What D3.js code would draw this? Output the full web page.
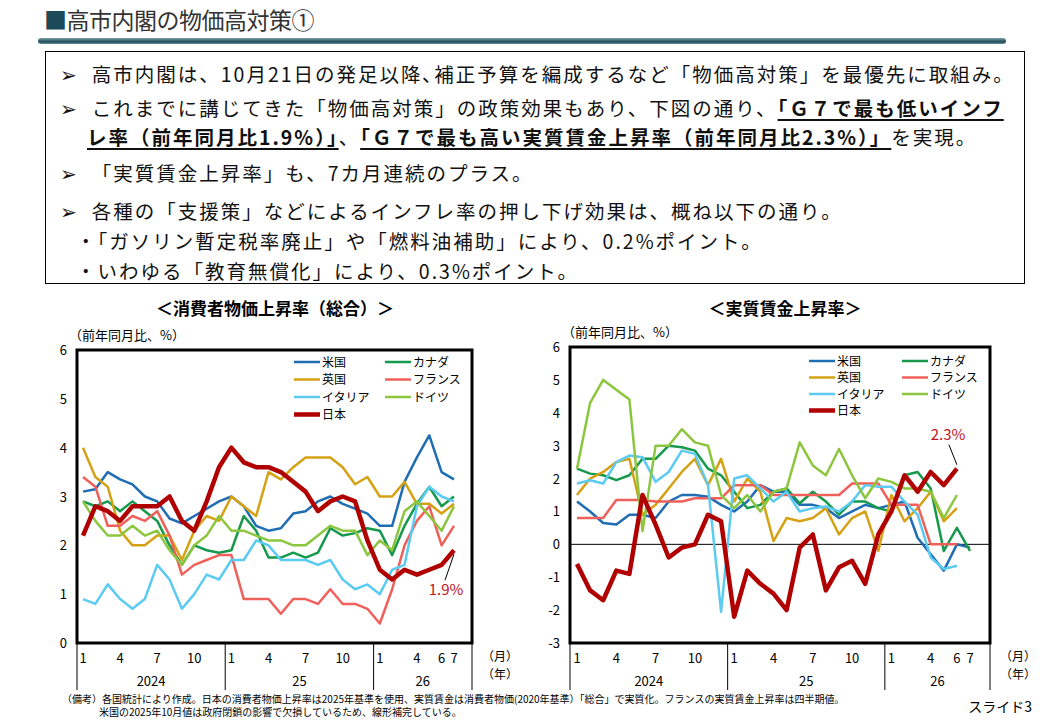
<!DOCTYPE html>
<html><head><meta charset="utf-8">
<script src="https://cdn.jsdelivr.net/npm/d3@7"></script>
<style>
body{margin:0;background:#fff;font-family:"Noto Sans CJK JP",sans-serif;}
#wrap{position:relative;width:1040px;height:720px;overflow:hidden;}
#title{position:absolute;left:44px;top:2px;font-size:23px;color:#333;letter-spacing:-0.5px;}
#title span{color:#1d4a5a;}
#rule{position:absolute;left:38px;top:38px;width:968px;height:6px;border-radius:3px;background:linear-gradient(#7aa0aa,#24505e 60%,#5f8791);}
#box{position:absolute;left:45px;top:51px;width:980px;height:233px;border:1px solid #000;box-sizing:border-box;}
.ln{position:absolute;left:14px;font-size:19.5px;white-space:nowrap;color:#111;letter-spacing:2px;}
.ln u{text-decoration-thickness:2px;text-underline-offset:3px;}
svg{position:absolute;left:0;top:0;}
</style></head><body>
<div id="wrap">
<div id="title"><span>■</span>高市内閣の物価高対策①</div>
<div id="rule"></div>
<div id="box">
<div class="ln" style="top:7px">➢&nbsp;&nbsp;高市内閣は、10月21日の発足以降､補正予算を編成するなど「物価高対策」を最優先に取組み。</div>
<div class="ln" style="top:41px">➢&nbsp;&nbsp;これまでに講じてきた「物価高対策」の政策効果もあり、下図の通り、<u><b>「Ｇ７で最も低いインフ</b></u></div>
<div class="ln" style="top:70px;left:41px"><u><b>レ率（前年同月比1.9%）」</b></u>、<u><b>「Ｇ７で最も高い実質賃金上昇率（前年同月比2.3%）」</b></u>を実現。</div>
<div class="ln" style="top:106px">➢&nbsp;&nbsp;「実質賃金上昇率」も、7カ月連続のプラス。</div>
<div class="ln" style="top:144px">➢&nbsp;&nbsp;各種の「支援策」などによるインフレ率の押し下げ効果は、概ね以下の通り。</div>
<div class="ln" style="top:174px;left:30px">・「ガソリン暫定税率廃止」や「燃料油補助」により、0.2%ポイント。</div>
<div class="ln" style="top:204px;left:30px">・いわゆる「教育無償化」により、0.3%ポイント。</div>
</div>
<svg id="chart" width="1040" height="720"></svg>
</div>
<script>
const names = ["米国","カナダ","英国","フランス","イタリア","ドイツ","日本"];
const colors = ["#1f6db3","#16994c","#d4a214","#f0605a","#5ccbf2","#8cc63f","#b00000"];
const monthTicks = ["1","4","7","10","1","4","7","10","1","4","6","7"];
const monthTickIdx = [0,3,6,9,12,15,18,21,24,27,29,30];
const yearLabels = ["2024","25","26"];

// 消費者物価上昇率 (2024年1月〜2026年7月)
const cpiUS = [3.1,3.15,3.5,3.35,3.25,3.0,2.9,2.55,2.45,2.6,2.75,2.9,3.0,2.8,2.4,2.3,2.35,2.65,2.7,2.9,3.0,2.85,2.75,2.65,2.4,2.4,3.3,3.8,4.25,3.5,3.35];
const cpiCA = [2.9,2.8,2.9,2.7,2.9,2.7,2.5,2.0,1.6,2.0,1.9,1.85,1.9,2.6,2.3,1.75,1.75,1.85,1.75,1.85,2.35,2.2,2.25,2.35,2.3,1.8,2.4,2.85,3.2,2.8,3.0];
const cpiUK = [4.0,3.4,3.2,2.3,2.0,2.0,2.2,2.2,1.7,2.3,2.6,2.5,3.0,2.8,2.6,3.5,3.35,3.6,3.8,3.8,3.8,3.6,3.25,3.4,3.0,3.0,3.3,2.85,2.85,2.65,2.85];
const cpiFR = [3.4,3.2,2.4,2.4,2.6,2.5,2.7,2.2,1.4,1.6,1.7,1.8,1.8,0.9,0.9,0.9,0.6,0.9,0.9,0.8,1.1,0.8,0.8,0.7,0.4,1.1,2.0,2.5,2.8,2.0,2.4];
const cpiIT = [0.9,0.8,1.2,0.9,0.7,0.9,1.6,1.3,0.7,1.0,1.4,1.3,1.7,1.7,2.1,2.0,1.7,1.7,1.7,1.6,1.7,1.3,1.1,1.2,1.0,1.5,1.6,2.8,3.2,3.0,2.9];
const cpiDE = [2.9,2.5,2.2,2.2,2.4,2.2,2.3,1.9,1.6,2.0,2.2,2.6,2.3,2.3,2.2,2.1,2.1,2.0,2.0,2.2,2.4,2.3,2.3,1.8,2.1,1.9,2.7,2.9,2.6,2.3,2.8];
const cpiJP = [2.2,2.8,2.7,2.5,2.8,2.8,2.8,3.0,2.5,2.3,2.9,3.6,4.0,3.7,3.6,3.6,3.5,3.3,3.1,2.7,2.9,3.0,2.9,2.1,1.5,1.3,1.5,1.4,1.5,1.6,1.9];

// 実質賃金上昇率
const wageUS = [1.3,1.0,0.65,0.6,0.9,0.9,0.8,1.3,1.5,1.5,1.45,1.2,1.0,1.3,1.8,1.6,1.6,1.2,1.2,1.1,0.8,1.0,1.2,1.1,1.2,1.3,0.2,-0.3,-0.8,0.0,-0.1];
const wageCA = [2.3,2.15,2.1,1.95,2.1,2.6,2.6,3.0,2.95,2.85,2.3,2.1,1.6,1.1,1.2,1.6,1.7,1.25,1.6,1.3,0.9,1.3,1.3,1.1,1.0,2.1,2.2,1.7,-0.2,0.5,-0.2];
const wageUK = [1.5,2.0,2.2,2.5,2.6,0.9,1.2,1.7,2.2,2.6,1.8,2.6,1.3,2.0,1.6,0.1,0.8,0.7,0.8,1.1,0.3,0.8,1.0,-0.2,1.5,0.7,1.1,1.6,0.7,1.1];
const wageFR = [0.8,0.8,0.8,1.35,1.35,1.35,1.3,1.3,1.3,1.4,1.4,1.4,1.8,1.8,1.8,1.5,1.5,1.5,1.5,1.5,1.5,1.85,1.85,1.85,1.2,1.2,1.2,0.0,0.0,0.0];
const wageIT = [1.85,1.95,1.85,2.5,2.7,2.65,1.9,2.2,2.85,2.75,1.8,-2.05,2.0,2.1,1.7,1.3,1.6,1.0,1.1,1.15,1.0,1.3,1.8,1.75,1.75,1.3,0.9,-0.4,-0.75,-0.65];
const wageDE = [2.3,4.3,5.0,4.7,4.4,0.4,3.0,3.0,3.5,3.1,3.0,1.5,1.1,1.5,1.0,1.6,1.7,3.1,2.4,2.1,2.9,2.1,1.4,2.0,1.9,1.7,1.7,1.6,0.8,1.5];
const wageJP = [-0.6,-1.4,-1.7,-0.8,-0.9,1.5,0.6,-0.4,-0.1,0.0,0.9,0.7,-2.2,-0.8,-1.2,-1.5,-2.0,-0.1,0.3,-1.4,-0.7,-0.5,-1.2,0.3,1.0,2.1,1.6,2.2,1.8,2.3];

const svg = d3.select("#chart");
const font = '"Noto Sans CJK JP",sans-serif';

function drawChart(o) {
  const g = svg.append("g");
  const x = d3.scaleLinear().domain([0, 30]).range([o.x0 + o.pad, o.x1 - o.pad2]);
  const y = d3.scaleLinear().domain(o.yDomain).range([o.yb, o.yt]);

  g.append("text").attr("x", o.titleX).attr("y", 315).attr("text-anchor", "middle")
    .style("font-size", "17px").style("font-weight", "bold").style("font-family", font).text(o.title);
  g.append("text").attr("x", o.x0 - 8).attr("y", o.yt - 10)
    .style("font-size", "13px").style("font-family", font).text("（前年同月比、%）");

  y.ticks(o.yDomain[1] - o.yDomain[0]).forEach(t => {
    g.append("text").attr("x", o.x0 - 10).attr("y", y(t) + 5).attr("text-anchor", "end")
      .style("font-size", "13px").style("font-family", font).text(t < 0 ? "-" + (-t) : t);
  });

  if (o.zero) {
    g.append("line").attr("x1", o.x0).attr("x2", o.x1).attr("y1", y(0)).attr("y2", y(0))
      .attr("stroke", "#000").attr("stroke-width", 1);
  }

  const line = d3.line().x((d, i) => x(i)).y(d => y(d));
  o.series.forEach((s, k) => {
    g.append("path").datum(s).attr("fill", "none").attr("stroke", colors[k])
      .attr("stroke-width", k === 6 ? 4.5 : 2.5).attr("stroke-linejoin", "round").attr("d", line);
  });

  // frame
  g.append("rect").attr("x", o.x0).attr("y", o.yt).attr("width", o.x1 - o.x0).attr("height", o.yb - o.yt)
    .attr("fill", "none").attr("stroke", "#000").attr("stroke-width", 3);

  // category axis
  const sepX = [o.x0, (x(11) + x(12)) / 2, (x(23) + x(24)) / 2, o.x1];
  sepX.forEach(sx => g.append("line").attr("x1", sx).attr("x2", sx).attr("y1", o.yb).attr("y2", 690)
    .attr("stroke", "#000").attr("stroke-width", 1));
  monthTicks.forEach((m, j) => {
    g.append("text").attr("x", x(monthTickIdx[j])).attr("y", o.yb + 20).attr("text-anchor", "middle")
      .style("font-size", "13px").style("font-family", font).text(m);
  });
  yearLabels.forEach((yl, j) => {
    g.append("text").attr("x", (sepX[j] + sepX[j + 1]) / 2).attr("y", 686).attr("text-anchor", "middle")
      .style("font-size", "13px").style("font-family", font).text(yl);
  });
  g.append("text").attr("x", o.x1 + 10).attr("y", o.yb + 18).style("font-size", "12px").style("font-family", font).text("（月）");
  g.append("text").attr("x", o.x1 + 10).attr("y", o.yb + 36).style("font-size", "12px").style("font-family", font).text("（年）");

  // legend
  names.forEach((nm, k) => {
    const col = k === 6 ? 0 : k % 2, row = Math.floor(k / 2);
    const lx = o.legX + col * o.legCol, ly = o.legY + row * o.legRow;
    g.append("line").attr("x1", lx).attr("x2", lx + 26).attr("y1", ly).attr("y2", ly)
      .attr("stroke", colors[k]).attr("stroke-width", k === 6 ? 4.5 : 2.5);
    g.append("text").attr("x", lx + 28).attr("y", ly + 4.5).style("font-size", "12px")
      .style("font-family", font).text(nm);
  });

  // annotation for Japan
  const jp = o.series[6], li = jp.length - 1;
  g.append("line").attr("x1", x(li)).attr("y1", y(jp[li]) + o.annDy1).attr("x2", x(li) + o.annDx).attr("y2", y(jp[li]) + o.annDy2)
    .attr("stroke", "#000").attr("stroke-width", 1);
  g.append("text").attr("x", o.annX).attr("y", o.annY).attr("text-anchor", "middle")
    .style("font-size", "15px").style("fill", "#c0141e").style("font-family", font).text(o.annText);
}

drawChart({
  title: "＜消費者物価上昇率（総合）＞", titleX: 275,
  x0: 77, x1: 472, pad: 6, pad2: 18, yt: 350, yb: 643, yDomain: [0, 6], zero: false,
  series: [cpiUS, cpiCA, cpiUK, cpiFR, cpiIT, cpiDE, cpiJP],
  legX: 294, legY: 362, legCol: 91, legRow: 17.5,
  annDy1: 4, annDx: -9, annDy2: 30, annX: 446, annY: 595, annText: "1.9%"
});
drawChart({
  title: "＜実質賃金上昇率＞", titleX: 785,
  x0: 570, x1: 990, pad: 7, pad2: 20, yt: 347, yb: 643, yDomain: [-3, 6], zero: true,
  series: [wageUS, wageCA, wageUK, wageFR, wageIT, wageDE, wageJP],
  legX: 809, legY: 361, legCol: 93, legRow: 16.5,
  annDy1: -4, annDx: -8, annDy2: -24, annX: 948, annY: 440, annText: "2.3%"
});

// notes
svg.append("text").attr("x", 62).attr("y", 703).style("font-size", "10px").style("font-family", font)
  .text("（備考）各国統計により作成。日本の消費者物価上昇率は2025年基準を使用、実質賃金は消費者物価(2020年基準）「総合」で実質化。フランスの実質賃金上昇率は四半期値。");
svg.append("text").attr("x", 99).attr("y", 716).style("font-size", "10px").style("font-family", font)
  .text("米国の2025年10月値は政府閉鎖の影響で欠損しているため、線形補完している。");
svg.append("text").attr("x", 1032).attr("y", 712).attr("text-anchor", "end").style("font-size", "14px")
  .style("font-family", font).text("スライド3");
</script>
</body></html>
